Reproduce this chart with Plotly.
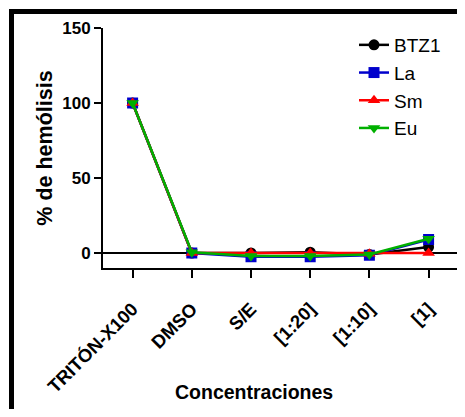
import plotly.graph_objects as go

categories = ["TRITÓN-X100", "DMSO", "S/E", "[1:20]", "[1:10]", "[1]"]
btz1 = [100, 0, 0, 0.5, -1, 4]
la = [100, 0, -2.5, -2.5, -1.5, 9]
sm = [100, 0, 0, 0, -0.5, 0]
eu = [100, 0.5, -2, -2, -1, 9.5]
y_ticks = [0, 50, 100, 150]

FONT = "Liberation Sans, Arial, sans-serif"

series = [
    ("BTZ1", btz1, "#000000", "circle"),
    ("La", la, "#0000CC", "square"),
    ("Sm", sm, "#FF0000", "triangle-up"),
    ("Eu", eu, "#00B000", "triangle-down"),
]

fig = go.Figure()
for i, (name, vals, col, sym) in enumerate(series):
    fig.add_trace(go.Scatter(
        x=categories, y=vals, name=name, mode="lines+markers",
        line=dict(color=col, width=2.5),
        marker=dict(color=col, symbol=sym, size=11),
        legendgroup=f"g{i}",
    ))

OFF = 8  # page body margin
W, H = 457, 401
L = 103 - OFF
T = 28 - OFF
plot_bottom = 268 - OFF
B = H - plot_bottom
R = 0
pw, ph = W - L - R, H - T - B


def px(x):
    return (x - OFF - L) / pw


def py(y):
    return (plot_bottom - (y - OFF)) / ph


fig.update_layout(
    width=W, height=H,
    margin=dict(l=L, r=R, t=T, b=B, autoexpand=False),
    paper_bgcolor="white", plot_bgcolor="white",
    font=dict(family=FONT, color="black"),
    showlegend=True,
    legend=dict(
        x=px(354), y=py(26), xanchor="left", yanchor="top",
        font=dict(size=19, family=FONT, color="black"),
        bgcolor="rgba(0,0,0,0)", tracegroupgap=0,
    ),
    xaxis=dict(
        type="category", range=[-0.5, 5.615],
        showline=True, linecolor="black", linewidth=2,
        ticks="outside", ticklen=8, tickwidth=2, tickcolor="black",
        tickangle=-45, ticklabelstandoff=13,
        tickfont=dict(size=18.5, family=FONT, weight="bold", color="black"),
        showgrid=False, zeroline=False,
    ),
    yaxis=dict(
        range=[-10, 150], tickvals=y_ticks,
        showline=True, linecolor="black", linewidth=2,
        ticks="outside", ticklen=7, tickwidth=2, tickcolor="black",
        tickfont=dict(size=17, family=FONT, weight="bold", color="black"),
        showgrid=False, zeroline=True, zerolinecolor="black", zerolinewidth=2,
        title=dict(text="% de hemólisis", standoff=4,
                   font=dict(size=21.5, family=FONT, weight="bold", color="black")),
    ),
    annotations=[dict(
        text="Concentraciones", xref="paper", yref="paper",
        x=px(254), y=py(392), xanchor="center", yanchor="middle",
        showarrow=False,
        font=dict(size=19.5, family=FONT, weight="bold", color="black"),
    )],
    shapes=[dict(
        type="rect", xref="paper", yref="paper",
        x0=px(11.5), x1=2, y0=-3, y1=py(11.5),
        line=dict(color="black", width=5), layer="above",
    )],
)

fig.write_html("out.html")
